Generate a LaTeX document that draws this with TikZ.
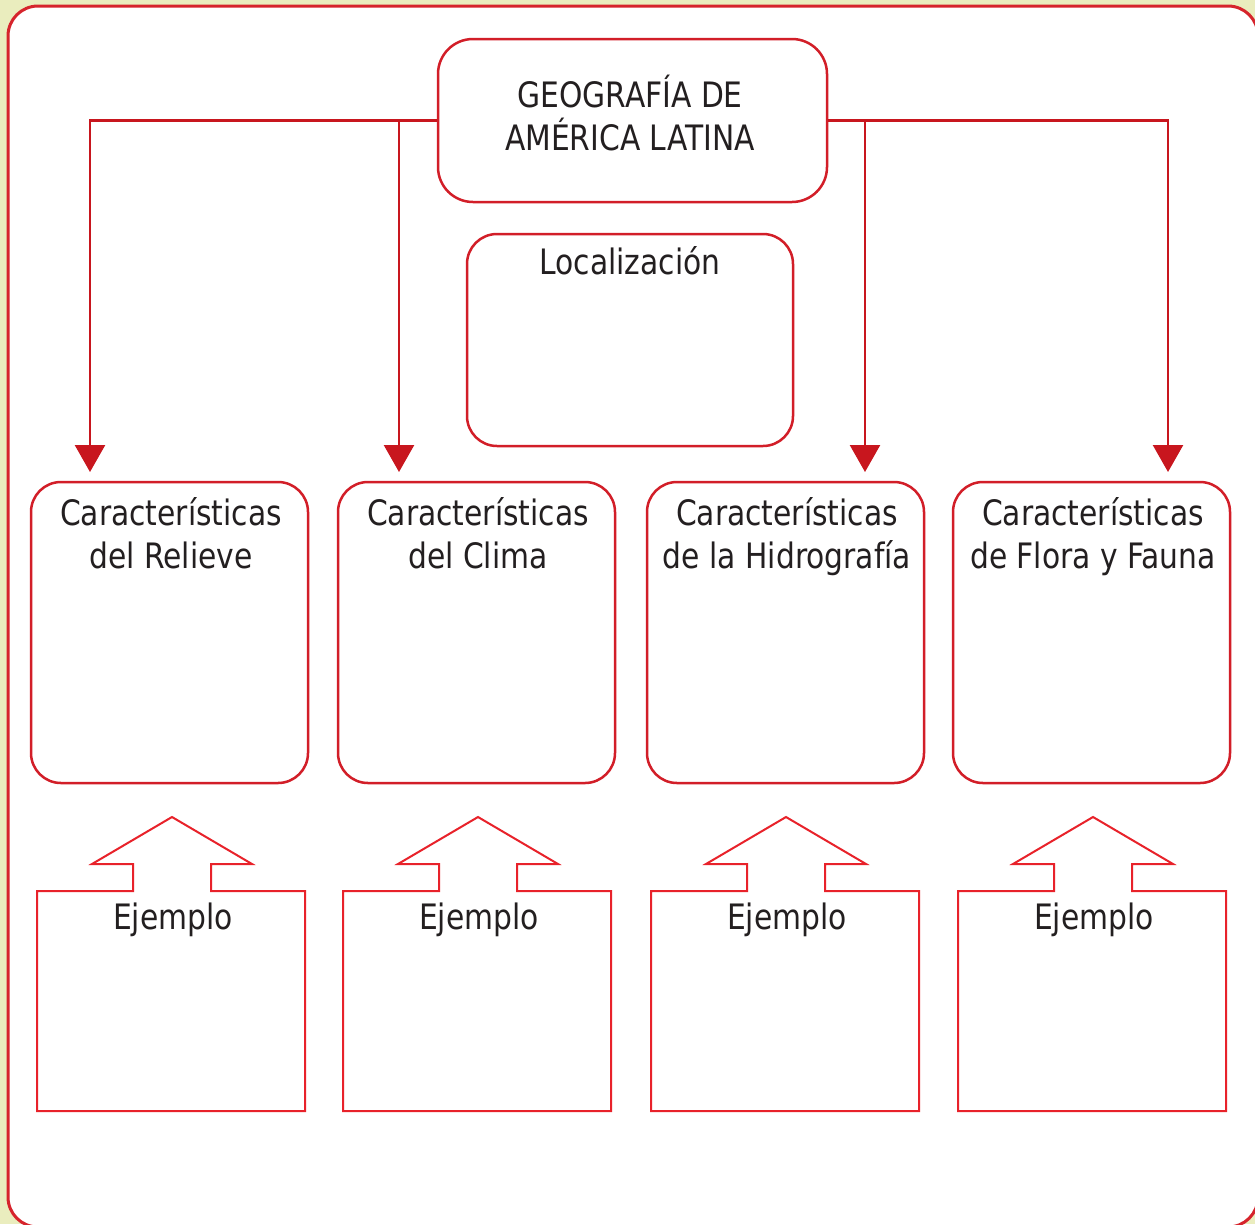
\documentclass[tikz,border=0pt]{standalone}
\usepackage{fontspec}
\setmainfont{DejaVu Sans}[FakeStretch=0.85]
\usetikzlibrary{arrows.meta}
\definecolor{bgyellow}{RGB}{234,237,190}
\definecolor{framered}{RGB}{214,36,44}
\definecolor{boxred}{RGB}{210,30,40}
\definecolor{arrred}{RGB}{200,22,30}
\definecolor{thinred}{RGB}{232,34,42}
\definecolor{txtgray}{RGB}{35,31,32}
\tikzset{
  rbox/.style={draw=boxred, line width=2.5pt, fill=white, rounded corners=30pt, inner sep=0pt},
  lbl/.style={text=txtgray, inner sep=0pt, anchor=base, font=\fontsize{35}{42}\selectfont},
  conn/.style={draw=arrred, line width=2.5pt, -{Triangle[width=30pt,length=27pt,fill=arrred]}},
  exshape/.style={draw=thinred, line width=2pt, fill=white, line join=miter},
}
\begin{document}
\begin{tikzpicture}[x=1pt,y=-1pt]
\useasboundingbox (0,0) rectangle (1255,1224);
\fill[bgyellow] (0,0) rectangle (1255,1224);
\begin{scope}
\clip (0,0) rectangle (1255,1224);
\draw[framered, line width=3pt, fill=white, rounded corners=30pt] (8,6) rectangle (1258,1227);
\end{scope}

% top box
\node[rbox, rounded corners=35pt, minimum width=389pt, minimum height=163pt] (top) at (632.5,120.5) {};
\node[lbl] (t1) at (630,107) {GEOGRAFÍA DE};
\node[lbl] (t2) at (630,150) {AMÉRICA LATINA};

% localizacion
\node[rbox, minimum width=326pt, minimum height=212pt] (loc) at (630,340) {};
\node[lbl] (loct) at (630,274) {Localización};

% four boxes
\node[rbox, minimum width=277pt, minimum height=301pt] (b1) at (169.5,632.5) {};
\node[rbox, minimum width=277pt, minimum height=301pt] (b2) at (476.5,632.5) {};
\node[rbox, minimum width=277pt, minimum height=301pt] (b3) at (785.5,632.5) {};
\node[rbox, minimum width=277pt, minimum height=301pt] (b4) at (1091.5,632.5) {};
\node[lbl] (b1a) at (171,525) {Características};
\node[lbl] (b1b) at (171,568) {del Relieve};
\node[lbl] (b2a) at (478,525) {Características};
\node[lbl] (b2b) at (478,568) {del Clima};
\node[lbl] (b3a) at (787,525) {Características};
\node[lbl] (b3b) at (787,568) {de la Hidrografía};
\node[lbl] (b4a) at (1093,525) {Características};
\node[lbl] (b4b) at (1093,568) {de Flora y Fauna};

% arrow targets
\coordinate (a1) at (90,472);
\coordinate (a2) at (399,472);
\coordinate (a3) at (865,472);
\coordinate (a4) at (1168,472);
\draw[conn] (top.west) -| (a1);
\draw[conn] (top.west -| a2) -- (a2);
\draw[conn] (top.east) -| (a4);
\draw[conn] (top.east -| a3) -- (a3);

% ejemplo shapes
\foreach \dx/\n in {0/1,306/2,614/3,921/4}{
  \draw[exshape] (37+\dx,1111) -- (37+\dx,891) -- (133+\dx,891) -- (133+\dx,864)
    -- (92+\dx,864) -- (172+\dx,817) -- (252+\dx,864) -- (211+\dx,864)
    -- (211+\dx,891) -- (305+\dx,891) -- (305+\dx,1111) -- cycle;
  \node[lbl] (ej\n) at (173+\dx,929) {Ejemplo};
}
\end{tikzpicture}
\end{document}
